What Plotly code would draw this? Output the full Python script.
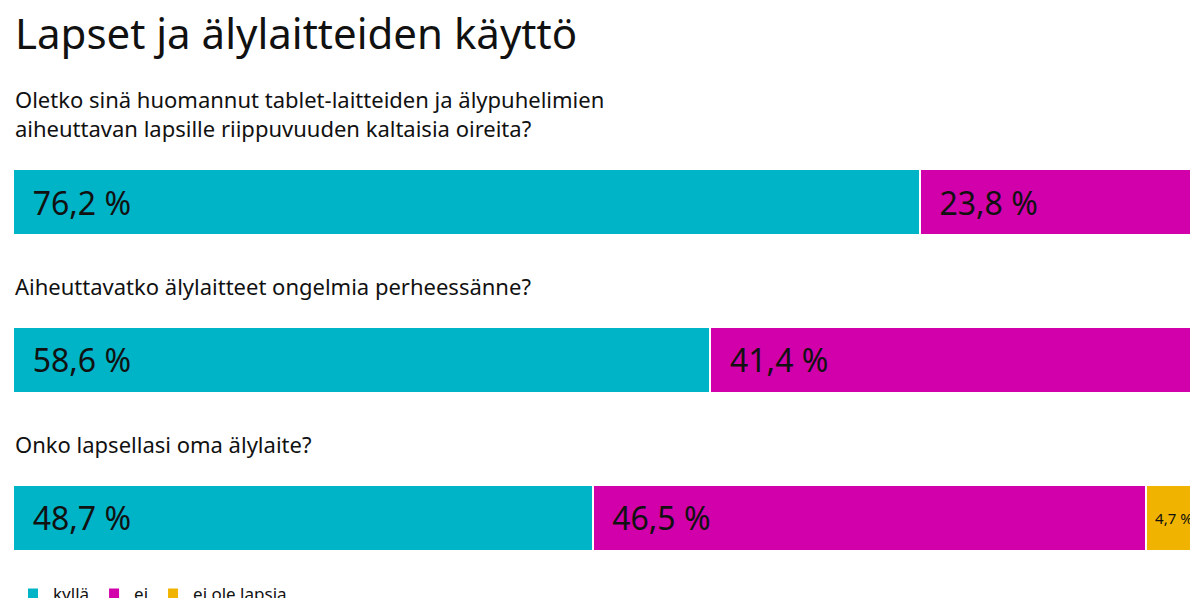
import plotly.graph_objects as go

questions = ["Oletko sinä huomannut tablet-laitteiden ja älypuhelimien<br>aiheuttavan lapsille riippuvuuden kaltaisia oireita?",
             "Aiheuttavatko älylaitteet ongelmia perheessänne?",
             "Onko lapsellasi oma älylaite?"]
kylla = [76.2, 58.6, 48.7]
ei = [23.8, 41.4, 46.5]
ei_ole = [0, 0, 4.7]
rows = [0, 1, 2]

def lab(v, pad):
    return (pad + f"{v:.1f} %".replace(".", ",")) if v > 0 else ""

fig = go.Figure()
for name, vals, col, size, pad in [("kyllä", kylla, "#00b4c8", 32, "  "),
                                   ("ei", ei, "#d200aa", 32, "  "),
                                   ("ei ole lapsia", ei_ole, "#f0b400", 15, "")]:
    fig.add_bar(y=rows, x=vals, name=name, orientation="h", width=0.42,
                marker=dict(color=col, line=dict(color="white", width=2)),
                text=[lab(v, pad) for v in vals], textposition="inside",
                insidetextanchor="start" if pad else "middle",
                textfont=dict(size=size, color="#111"), textangle=0,
                hoverinfo="skip")

for q, r in zip(questions, rows):
    fig.add_annotation(text=q, x=0, xref="x", y=r - 0.36, yref="y", yanchor="bottom",
                       xanchor="left", showarrow=False, align="left",
                       font=dict(size=22, color="#111"))
fig.add_annotation(text="Lapset ja älylaitteiden käyttö", x=0, xref="paper", y=1.01, yref="paper",
                   xanchor="left", yanchor="top", showarrow=False,
                   font=dict(size=42, color="#111"))

fig.update_layout(
    width=1198, height=598, barmode="stack", template="none",
    margin=dict(l=5, r=3, t=0, b=0, autoexpand=False), paper_bgcolor="white", plot_bgcolor="white",
    font=dict(family="Noto Sans, sans-serif", color="#111"),
    xaxis=dict(range=[0, 100], visible=False, fixedrange=True),
    yaxis=dict(range=[2.56, -1.23], visible=False),
    legend=dict(orientation="h", x=0, y=-0.01, yanchor="bottom", xanchor="left",
                traceorder="normal", font=dict(size=17), itemwidth=30,
                bgcolor="rgba(0,0,0,0)"),
    showlegend=True,
)
fig.write_html("out.html")
